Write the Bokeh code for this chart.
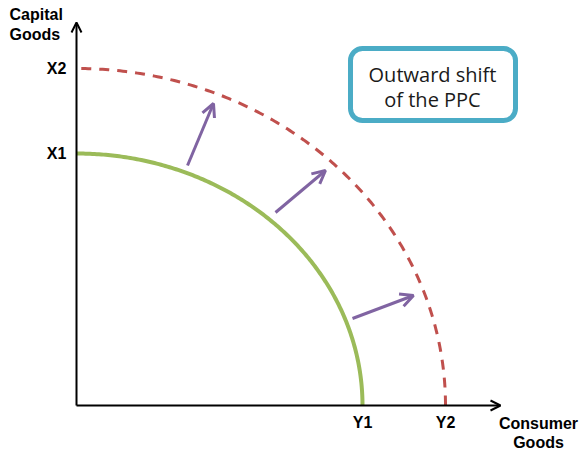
import numpy as np
from bokeh.plotting import figure
from bokeh.models import Arrow, OpenHead, BoxAnnotation
from bokeh.core.properties import value
from bokeh.embed import file_html
from bokeh.resources import INLINE

# ---- data (diagram units: origin at the axes corner) ----
ppc_labels = ["X1", "Y1"]
shift_labels = ["X2", "Y2"]
capital_intercepts = [252, 337]      # X1, X2
consumer_intercepts = [286, 369]     # Y1, Y2
axis_ends = [424, 383]               # x-axis tip, y-axis tip
shift_x0 = [111, 199, 276]
shift_y0 = [240, 193, 87]
shift_x1 = [137, 249, 337]
shift_y1 = [302, 235, 110]
box_text = ["Outward shift", "of the PPC"]
y_axis_title = ["Capital", "Goods"]
x_axis_title = ["Consumer", "Goods"]

p = figure(width=583, height=452, x_range=(-76, 507), y_range=(-47, 405),
           output_backend="svg", toolbar_location=None, min_border=0)
p.axis.visible = False
p.grid.visible = False
p.outline_line_color = None
p.background_fill_color = "white"

# box (drawn beneath the glyphs)
p.add_layout(BoxAnnotation(left=274, right=439, top=357, bottom=285,
                           fill_color="white", fill_alpha=1,
                           line_color="#4BACC6", line_alpha=1, line_width=5,
                           border_radius=12, level="underlay"))

# curves
t = np.linspace(0, np.pi / 2, 200)
p.line(consumer_intercepts[0] * np.cos(t), capital_intercepts[0] * np.sin(t),
       line_color="#9BBB59", line_width=4)
p.line(consumer_intercepts[1] * np.cos(t), capital_intercepts[1] * np.sin(t),
       line_color="#C0504D", line_width=3, line_dash="10 8")

# axes
p.add_layout(Arrow(x_start=0, y_start=0, x_end=axis_ends[0], y_end=0,
                   line_color="black", line_width=2,
                   end=OpenHead(size=10, line_width=2, line_color="black")))
p.add_layout(Arrow(x_start=0, y_start=0, x_end=0, y_end=axis_ends[1],
                   line_color="black", line_width=2,
                   end=OpenHead(size=10, line_width=2, line_color="black")))

# shift arrows
for xs, ys, xe, ye in zip(shift_x0, shift_y0, shift_x1, shift_y1):
    p.add_layout(Arrow(x_start=xs, y_start=ys, x_end=xe, y_end=ye,
                       line_color="#8064A2", line_width=3,
                       end=OpenHead(size=13, line_width=3, line_color="#8064A2")))

p.text(x=[356, 356], y=[331, 306], text=box_text, text_align="center",
       text_baseline="middle", text_font=value("Open Sans"), text_font_size="20px",
       text_color="#1a1a1a")

bold = dict(text_font=value("Liberation Sans"), text_font_style="bold",
            text_font_size="16px", text_color="black", text_baseline="middle")
# tick labels
p.text(x=[-20, -20], y=capital_intercepts, text=[ppc_labels[0], shift_labels[0]],
       text_align="center", **bold)
p.text(x=consumer_intercepts, y=[-17, -17], text=[ppc_labels[1], shift_labels[1]],
       text_align="center", **bold)
# axis titles
p.text(x=[-67, -67], y=[391, 371], text=y_axis_title, text_align="left", **bold)
p.text(x=[462, 462], y=[-18, -37], text=x_axis_title, text_align="center", **bold)

open("out.html", "w").write(file_html(p, INLINE))
